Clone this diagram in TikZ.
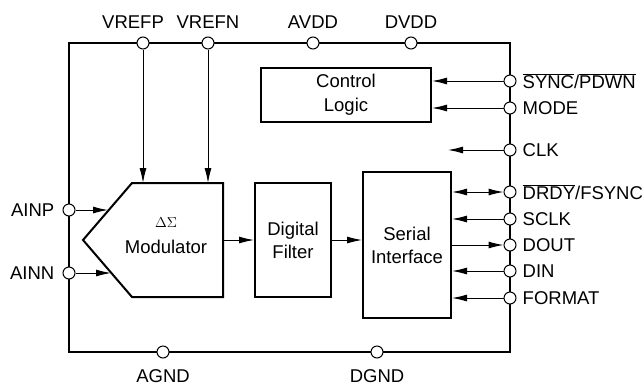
\documentclass[tikz,border=0pt]{standalone}
\usepackage{fontspec}
\setmainfont{Liberation Sans}
\usetikzlibrary{positioning,arrows.meta}
\newcommand\ovl[1]{$\overline{\mbox{#1}}$}
\tikzset{
  pinc/.style={circle, draw, fill=white, line width=1pt, minimum size=12pt, inner sep=0pt},
  block/.style={draw, line width=2pt, align=center, inner sep=0pt},
  sig/.style={line width=1pt, -{Latex[length=15pt,width=7pt]}},
  sigboth/.style={line width=1pt, {Latex[length=15pt,width=7pt]}-{Latex[length=15pt,width=7pt]}},
  lbl/.style={inner sep=1pt},
}
\begin{document}
\begin{tikzpicture}[x=1pt, y=-1pt, font=\fontsize{18.5}{23}\selectfont]
    \useasboundingbox (0,0) rectangle (644,386);
    \draw[line width=2.3pt] (69,43) rectangle (510,352); % package outline
    % blocks
    \node[block, minimum width=170pt, minimum height=54pt, font=\fontsize{18.5}{24}\selectfont] (ctrl) at (346,95) {Control\\Logic};
    \coordinate (m1) at (132,183); \coordinate (m2) at (223,183); \coordinate (m3) at (223,297);
    \coordinate (m4) at (132,297); \coordinate (m5) at (83,240);
    \draw[line width=2pt] (m1)--(m2)--(m3)--(m4)--(m5)--cycle;
    \node[align=center, font=\fontsize{18.5}{26}\selectfont] (mod) at (166,236) {{\fontsize{14}{16}\selectfont$\Delta\Sigma$}\\Modulator};
    \node[block, minimum width=76pt, minimum height=114pt] (filt) at (293,240) {Digital\\Filter};
    \node[block, minimum width=88pt, minimum height=146pt] (ser) at (407,245) {Serial\\Interface};
    % pins
    \foreach \n/\x/\t/\dx in {vrefp/143/VREFP/-10, vrefn/208/VREFN/0, avdd/313/AVDD/0, dvdd/411/DVDD/0}{
      \node[pinc] (\n) at (\x,43) {};
      \node[lbl, above=7pt of \n, xshift=\dx pt] {\t};
    }
    \foreach \n/\y/\t in {sync/81/{\ovl{SYNC}/\ovl{PDWN}}, mode/108/MODE, clk/150/CLK,
        drdy/192/{\ovl{DRDY}/FSYNC}, sclk/219/SCLK, dout/245/DOUT, din/271/DIN, format/298/FORMAT}{
      \node[pinc] (\n) at (510,\y) {};
      \node[lbl, right=5pt of \n] {\t};
    }
    \foreach \n/\y/\t in {ainp/210/AINP, ainn/273/AINN}{
      \node[pinc] (\n) at (69,\y) {};
      \node[lbl, left=7pt of \n] {\t};
    }
    \foreach \n/\x/\t in {agnd/163/AGND, dgnd/377/DGND}{
      \node[pinc] (\n) at (\x,352) {};
      \node[lbl, below=10pt of \n] {\t};
    }
    % signals
    \coordinate (ainpend) at (108,210); \coordinate (ainnend) at (111,273); \coordinate (clkend) at (448,150);
    \draw[sig] (vrefp) -- (vrefp |- m1);
    \draw[sig] (vrefn) -- (vrefn |- m1);
    \draw[sig] (ainp) -- (ainpend);
    \draw[sig] (ainn) -- (ainnend);
    \draw[sig] (m2 |- filt.west) -- (filt.west);
    \draw[sig] (filt.east) -- (filt.east -| ser.west);
    \draw[sig] (sync) -- (sync -| ctrl.east);
    \draw[sig] (mode) -- (mode -| ctrl.east);
    \draw[sig] (clk) -- (clkend);
    \draw[sigboth] (drdy) -- (drdy -| ser.east);
    \draw[sig] (sclk) -- (sclk -| ser.east);
    \draw[sig] (ser.east |- dout) -- (dout);
    \draw[sig] (din) -- (din -| ser.east);
    \draw[sig] (format) -- (format -| ser.east);
\end{tikzpicture}
\end{document}
